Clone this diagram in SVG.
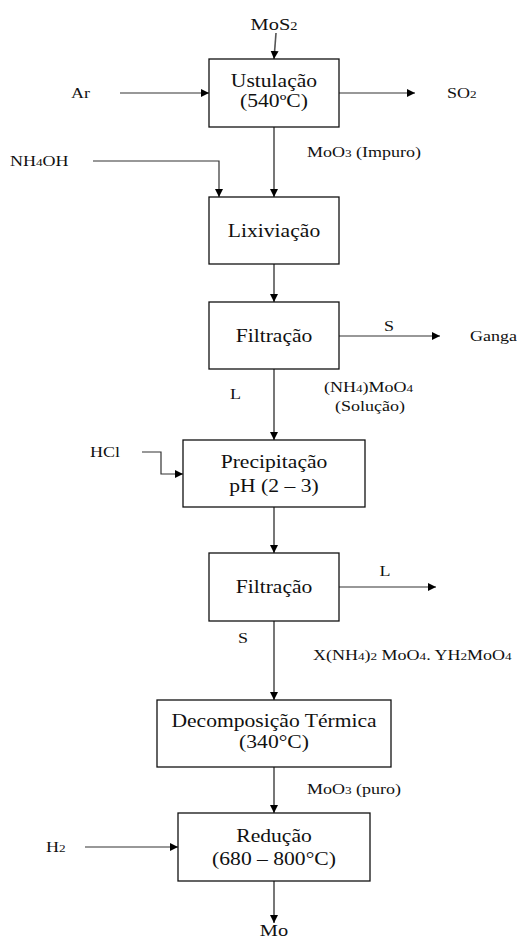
<svg xmlns="http://www.w3.org/2000/svg" width="517" height="938" viewBox="0 0 517 938">
<style>
text{font-family:"Liberation Serif","Times New Roman",serif;fill:#111}
.b{font-size:18px;text-anchor:middle}
.s{font-size:15px}
.m{text-anchor:middle}
.sub{font-size:11px}
rect{fill:#fff;stroke:#111;stroke-width:1.3}
.v{fill:none;stroke:#555;stroke-width:1.6}
.h{fill:none;stroke:#333;stroke-width:1.2}
</style>
<defs>
<marker id="ah" markerUnits="userSpaceOnUse" markerWidth="9" markerHeight="9" refX="8" refY="4" orient="auto">
<path d="M0,0 L8,4 L0,8 Z" fill="#000"/>
</marker>
</defs>
<g id="connectors">
<path class="v" d="M276,33 L274,59" marker-end="url(#ah)"/>
<path class="h" d="M120,93 H209" marker-end="url(#ah)"/>
<path class="h" d="M339,93 H415" marker-end="url(#ah)"/>
<path class="v" d="M274,127 V197" marker-end="url(#ah)"/>
<path class="h" d="M93,161 H219 V197" marker-end="url(#ah)"/>
<path class="v" d="M274,264 V302" marker-end="url(#ah)"/>
<path class="h" d="M339,336 H440" marker-end="url(#ah)"/>
<path class="v" d="M274,369 V440" marker-end="url(#ah)"/>
<path class="h" d="M142,452 H161 V474 H183" marker-end="url(#ah)"/>
<path class="v" d="M274,507 V553" marker-end="url(#ah)"/>
<path class="h" d="M339,587 H436" marker-end="url(#ah)"/>
<path class="v" d="M274,621 V700" marker-end="url(#ah)"/>
<path class="v" d="M274,767 V813" marker-end="url(#ah)"/>
<path class="h" d="M85,847 H178" marker-end="url(#ah)"/>
<path class="v" d="M274,881 V923" marker-end="url(#ah)"/>
</g>
<g id="ustulacao">
<rect x="209" y="59" width="130" height="68"/>
<text class="b" transform="translate(274,87) scale(1.2,1)">Ustulação</text>
<text class="b" transform="translate(274,106.5) scale(1.2,1)">(540ºC)</text>
</g>
<g id="lixiviacao">
<rect x="209" y="197" width="130" height="67"/>
<text class="b" transform="translate(274,237) scale(1.2,1)">Lixiviação</text>
</g>
<g id="filtracao1">
<rect x="209" y="302" width="130" height="67"/>
<text class="b" transform="translate(274,341.5) scale(1.2,1)">Filtração</text>
</g>
<g id="precipitacao">
<rect x="183" y="440" width="182" height="67"/>
<text class="b" transform="translate(274,468) scale(1.2,1)">Precipitação</text>
<text class="b" transform="translate(274,492) scale(1.2,1)">pH (2 – 3)</text>
</g>
<g id="filtracao2">
<rect x="209" y="553" width="130" height="68"/>
<text class="b" transform="translate(274,593) scale(1.2,1)">Filtração</text>
</g>
<g id="decomposicao">
<rect x="157" y="700" width="234" height="67"/>
<text class="b" transform="translate(274,727) scale(1.2,1)">Decomposição Térmica</text>
<text class="b" transform="translate(274,748) scale(1.2,1)">(340°C)</text>
</g>
<g id="reducao">
<rect x="178" y="813" width="192" height="68"/>
<text class="b" transform="translate(274,842) scale(1.2,1)">Redução</text>
<text class="b" transform="translate(274,865) scale(1.2,1)">(680 – 800°C)</text>
</g>
<g id="labels">
<text class="m" style="font-size:17px" transform="translate(274,30) scale(1.2,1)">MoS<tspan style="font-size:12px">2</tspan></text>
<text class="s" transform="translate(71,98) scale(1.2,1)">Ar</text>
<text class="s" transform="translate(447,98) scale(1.2,1)">SO<tspan class="sub">2</tspan></text>
<text class="s" transform="translate(307,157) scale(1.2,1)">MoO<tspan class="sub">3</tspan> (Impuro)</text>
<text class="s" transform="translate(10,166) scale(1.2,1)">NH<tspan class="sub">4</tspan>OH</text>
<text class="s m" transform="translate(389,331) scale(1.2,1)">S</text>
<text class="s" transform="translate(470,341) scale(1.2,1)">Ganga</text>
<text class="s" transform="translate(230,399) scale(1.2,1)">L</text>
<text class="s" transform="translate(324,392) scale(1.2,1)">(NH<tspan class="sub">4</tspan>)MoO<tspan class="sub">4</tspan></text>
<text class="s" transform="translate(335,411) scale(1.2,1)">(Solução)</text>
<text class="s" transform="translate(90,457) scale(1.2,1)">HCl</text>
<text class="s m" transform="translate(385,576) scale(1.2,1)">L</text>
<text class="s" transform="translate(238,643) scale(1.2,1)">S</text>
<text class="s" transform="translate(313,660) scale(1.2,1)">X(NH<tspan class="sub">4</tspan>)<tspan class="sub">2</tspan> MoO<tspan class="sub">4</tspan>. YH<tspan class="sub">2</tspan>MoO<tspan class="sub">4</tspan></text>
<text class="s" transform="translate(307,794) scale(1.2,1)">MoO<tspan class="sub">3</tspan> (puro)</text>
<text class="s" transform="translate(46,852) scale(1.2,1)">H<tspan class="sub">2</tspan></text>
<text class="m" style="font-size:17px" transform="translate(274,936) scale(1.2,1)">Mo</text>
</g>
</svg>
